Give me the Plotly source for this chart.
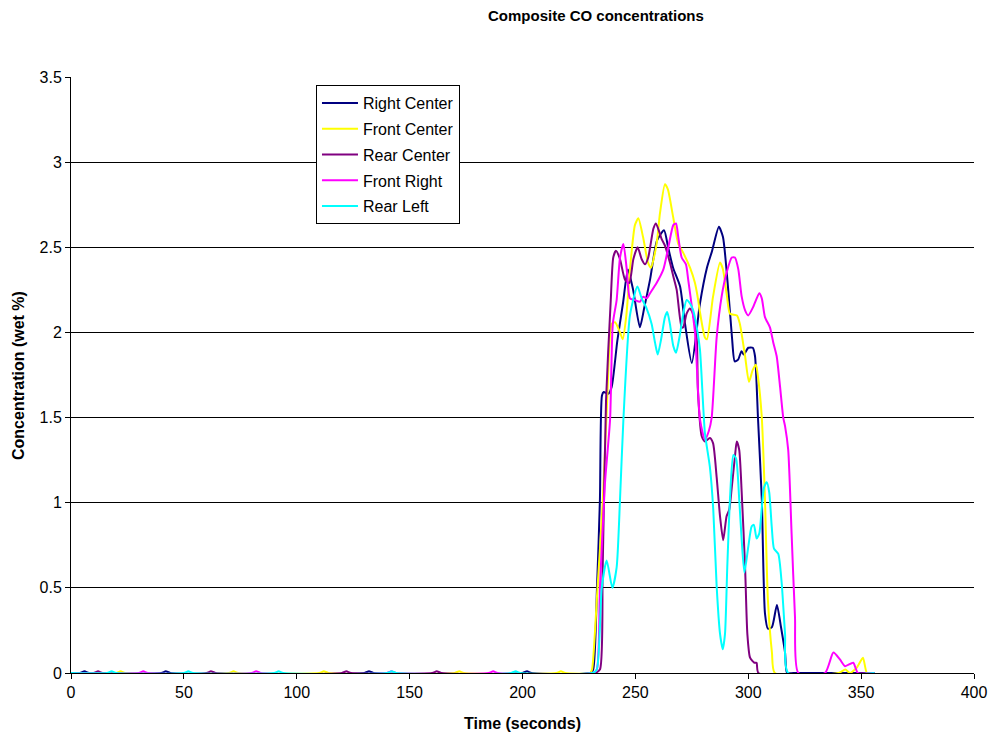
import plotly.graph_objects as go

# ---------------- data ----------------
series_names = ["Right Center", "Front Center", "Rear Center", "Front Right", "Rear Left"]
series_colors = ["#000080", "#FFFF00", "#800080", "#FF00FF", "#00FFFF"]

t_right_center = [0, 4, 6, 8, 40, 42, 44, 130, 132, 134, 200, 202, 204, 230,
                  231.3, 233, 234.3, 235.2, 236, 238, 239.5, 242, 244.5, 246.7, 249, 252, 254,
                  256.5, 259.6, 262.7, 264.5, 266.7, 269.8, 272, 275, 278.6, 281.7, 284, 287,
                  288.8, 291, 292.8, 294, 295.5, 297, 298, 300, 302, 303, 304.3, 306, 307.4,
                  308.7, 310.5, 312.7, 314.5, 316.3, 317.2, 320, 356]
c_right_center = [0, 0, 0.01, 0, 0, 0.01, 0, 0, 0.01, 0, 0, 0.01, 0, 0,
                  0.02, 0.5, 1.02, 1.63, 1.65, 1.64, 1.68, 1.95, 2.17, 2.37, 2.25, 2.03, 2.15,
                  2.31, 2.54, 2.60, 2.5, 2.38, 2.27, 2.05, 1.82, 2.17, 2.38, 2.48, 2.62,
                  2.56, 2.27, 1.97, 1.83, 1.84, 1.89, 1.87, 1.91, 1.91, 1.86, 1.5, 1.02, 0.35,
                  0.26, 0.27, 0.40, 0.27, 0.12, 0, 0, 0]

t_front_center = [0, 20, 22, 24, 70, 72, 74, 110, 112, 114, 170, 172, 174, 215, 217, 219, 230,
                  230.8, 233, 235.6, 237.5, 239.5, 241, 243.2, 244.4, 246, 247.6, 249.8, 251.3,
                  253.4, 255.6, 256.9, 259.4, 260.9, 263.1, 264.4, 266.7, 269, 271.1, 274.2,
                  276.4, 277.7, 278.6, 280.8, 281.7, 284.4, 287.5, 288.8, 290.6, 291.9, 295,
                  296.3, 298.6, 300.3, 302, 303.4, 304.3, 306, 307.4, 308.7, 310.5, 311.8,
                  340, 343, 345, 348, 350.8, 352.6, 356]
c_front_center = [0, 0, 0.01, 0, 0, 0.01, 0, 0, 0.01, 0, 0, 0.01, 0, 0, 0.01, 0, 0,
                  0.02, 0.45, 1.02, 1.6, 2.05, 2.06, 2.0, 1.96, 2.1, 2.37, 2.63, 2.67,
                  2.56, 2.41, 2.38, 2.52, 2.70, 2.87, 2.84, 2.68, 2.52, 2.47, 2.38,
                  2.29, 2.2, 2.12, 1.97, 1.96, 2.21, 2.41, 2.37, 2.21, 2.11, 2.10,
                  2.05, 1.86, 1.71, 1.78, 1.81, 1.74, 1.5, 1.02, 0.43, 0.12, 0,
                  0, 0.02, 0, 0.03, 0.09, 0, 0]

t_rear_center = [0, 10, 12, 14, 60, 62, 64, 120, 122, 124, 160, 162, 164, 232,
                 234.3, 235.5, 237, 239.1, 240.2, 241.4, 243.2, 245.4, 247.3, 249.1, 251,
                 252.8, 254.3, 255.7, 258, 259.1, 260.6, 261.6, 263.1, 265.3, 266.8, 268.3,
                 270.5, 271.2, 272.7, 274.2, 275.5, 277.2, 277.7, 279.4, 280.8, 283, 284.4,
                 286, 287.5, 288.9, 290.4, 291.6, 292.7, 294.1, 294.9, 296, 297.1, 298.6,
                 299.6, 300.8, 302.7, 303.7, 304.5, 356]
c_rear_center = [0, 0, 0.01, 0, 0, 0.01, 0, 0, 0.01, 0, 0, 0.01, 0, 0,
                 0.02, 0.6, 1.6, 2.19, 2.44, 2.48, 2.43, 2.31, 2.29, 2.43, 2.50,
                 2.43, 2.40, 2.44, 2.61, 2.64, 2.59, 2.55, 2.51, 2.41, 2.33, 2.25,
                 2.03, 2.03, 2.11, 2.14, 2.11, 1.96, 1.66, 1.39, 1.36, 1.38, 1.35,
                 1.15, 0.92, 0.78, 0.92, 0.96, 1.09, 1.27, 1.36, 1.31, 1.06, 0.62,
                 0.23, 0.09, 0.06, 0.06, 0, 0]

t_front_right = [0, 30, 32, 34, 80, 82, 84, 140, 142, 144, 185, 187, 189, 231,
                 232.9, 234.3, 236.5, 238.8, 240, 241.7, 243.2, 244.7, 246.1, 247.6, 249.8,
                 252, 253.5, 255, 256.5, 259.4, 262.4, 264.6, 266.8, 268, 269, 270.5, 272.4,
                 273.4, 276.4, 278.6, 280.8, 282.5, 283.8, 286, 288.2, 290.4, 292.7, 294.1,
                 295.6, 297.1, 298.6, 300, 302.2, 304.9, 306, 307.4, 309.6, 311.1, 312.6,
                 314.1, 315.5, 316.3, 317.7, 319.2, 320.7, 322.2, 334, 337.7, 340.6, 342.9,
                 346.5, 348.6, 356]
c_front_right = [0, 0, 0.01, 0, 0, 0.01, 0, 0, 0.01, 0, 0, 0.01, 0, 0,
                 0.02, 0.5, 1.11, 1.49, 2.05, 2.19, 2.44, 2.52, 2.38, 2.2, 2.19,
                 2.18, 2.21, 2.2, 2.23, 2.29, 2.37, 2.50, 2.63, 2.64, 2.56, 2.44, 2.40,
                 2.31, 2.0, 1.49, 1.37, 1.42, 1.5, 1.97, 2.21, 2.35, 2.44, 2.44,
                 2.37, 2.21, 2.13, 2.10, 2.15, 2.23, 2.2, 2.09, 2.03, 1.94, 1.86,
                 1.68, 1.5, 1.45, 1.31, 0.82, 0.33, 0, 0, 0.12, 0.08, 0.04,
                 0.06, 0, 0]

t_rear_left = [0, 16, 18, 20, 50, 52, 54, 90, 92, 94, 140, 142, 144, 195, 197, 199, 231,
               232.9, 235.1, 237.3, 239.8, 241.7, 243.2, 244.7, 247.6, 250.9, 252.8,
               255, 257.2, 258.7, 259.9, 261.4, 263.1, 264.1, 265.3, 266.8, 268, 269.5,
               271.2, 272.7, 274.2, 275.6, 277.2, 278.6, 280.8, 283, 284.5, 286, 287.5,
               288.7, 289.7, 290.7, 291.9, 293.4, 294.6, 296, 297.1, 298.3, 300, 301.5,
               302.5, 303.7, 304.9, 306, 307, 308.2, 309.3, 310.4, 311.4, 313.3, 314.8,
               316.3, 317.7, 356]
c_rear_left = [0, 0, 0.01, 0, 0, 0.01, 0, 0, 0.01, 0, 0, 0.01, 0, 0, 0.01, 0, 0,
               0.02, 0.5, 0.66, 0.5, 0.62, 1.02, 1.49, 2.1, 2.27, 2.2,
               2.14, 2.05, 1.94, 1.87, 1.96, 2.09, 2.12, 2.05, 1.92, 1.88, 1.97,
               2.11, 2.19, 2.17, 2.13, 2.03, 1.9, 1.41, 1.21, 0.96, 0.51, 0.23,
               0.14, 0.23, 0.62, 1.02, 1.28, 1.26, 1.02, 0.78, 0.59, 0.74, 0.86,
               0.87, 0.79, 0.82, 0.97, 1.09, 1.12, 1.06, 0.86, 0.73, 0.70, 0.53,
               0.23, 0, 0]

x_ticks = [0, 50, 100, 150, 200, 250, 300, 350, 400]
y_ticks = [0, 0.5, 1, 1.5, 2, 2.5, 3, 3.5]

times = [t_right_center, t_front_center, t_rear_center, t_front_right, t_rear_left]
concs = [c_right_center, c_front_center, c_rear_center, c_front_right, c_rear_left]

# ---------------- figure ----------------
fig = go.Figure()
for i, (name, color, t, c) in enumerate(zip(series_names, series_colors, times, concs)):
    fig.add_trace(go.Scatter(
        x=t, y=c, mode="lines", name=name, legendgroup=f"g{i}",
        line=dict(color=color, width=2, shape="spline", smoothing=0.6),
    ))

font_family = "Liberation Sans, Arial, sans-serif"

fig.update_layout(
    width=990, height=738,
    margin=dict(l=71, r=16, t=77, b=65, autoexpand=False),
    paper_bgcolor="white", plot_bgcolor="white",
    font=dict(family=font_family, size=16, color="black"),
    showlegend=True,
    legend=dict(
        x=0.2713, y=0.9866, xanchor="left", yanchor="top",
        bordercolor="black", borderwidth=1, bgcolor="white",
        font=dict(size=16, family=font_family, color="black"),
        tracegroupgap=2, itemwidth=36,
    ),
    xaxis=dict(
        range=[0, 400], tickvals=x_ticks, ticks="outside", ticklen=5,
        tickcolor="black", showline=True, linecolor="black", linewidth=1,
        showgrid=False, zeroline=False, tickfont=dict(size=16), automargin=False,
    ),
    yaxis=dict(
        range=[0, 3.5], tickvals=y_ticks, ticks="outside", ticklen=5,
        tickcolor="black", showline=True, linecolor="black", linewidth=1,
        showgrid=True, gridcolor="black", gridwidth=1, zeroline=False,
        tickfont=dict(size=16), automargin=False,
    ),
    annotations=[
        dict(text="<b>Composite CO concentrations</b>", xref="paper", yref="paper",
             x=0.5814, y=1.104, xanchor="center", yanchor="middle", showarrow=False,
             font=dict(size=15, family=font_family)),
        dict(text="<b>Time (seconds)</b>", xref="paper", yref="paper",
             x=0.5, y=-0.0839, xanchor="center", yanchor="middle", showarrow=False,
             font=dict(size=16, family=font_family)),
        dict(text="<b>Concentration (wet %)</b>", xref="paper", yref="paper",
             x=-0.0587, y=0.5, xanchor="center", yanchor="middle", showarrow=False,
             textangle=-90, font=dict(size=16, family=font_family)),
    ],
)

fig.write_html("out.html")
